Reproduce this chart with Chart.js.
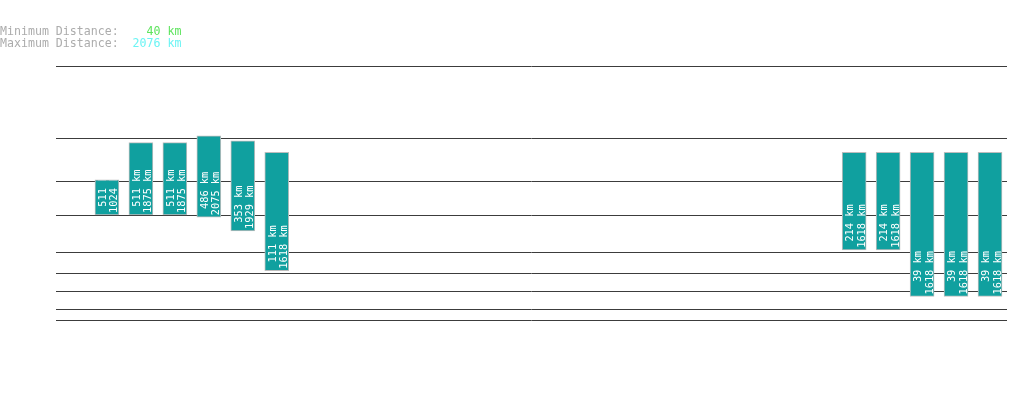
<!DOCTYPE html>
<html lang="en">

<head>
    <meta charset="UTF-8">
    <title>Distance Range</title>
    <script src="https://cdn.jsdelivr.net/npm/chart.js"></script>
    <style>
        body {
            margin: 0;
            background: #ffffff;
        }
    </style>
</head>

<body>
    <canvas id="distanceChart" width="1019" height="402"></canvas>

    <script>
        // slots along the x axis (only some of them have a reading)
        const slots = ['0', '1', '2', '3', '4', '5', '6', '7', '8', '9', '10', '11', '12', '13',
            '14', '15', '16', '17', '18', '19', '20', '21', '22', '23', '24', '25', '26', '27'];

        // distances in km, null = no reading
        const minKm = [null, 511, 511, 511, 486, 353, 111,
            null, null, null, null, null, null, null, null, null, null, null, null, null, null, null, null,
            214, 214, 39, 39, 39];
        const maxKm = [null, 1024, 1875, 1875, 2075, 1929, 1618,
            null, null, null, null, null, null, null, null, null, null, null, null, null, null, null, null,
            1618, 1618, 1618, 1618, 1618];

        // grid lines of the distance axis
        const gridKm = [10, 20, 50, 100, 200, 500, 1000, 2000, 5000];

        // summary shown at the top
        const headerMin = 40;
        const headerMax = 2076;

        // power scale (value^0.3) so short and long distances both fit
        class PowerScale extends Chart.LinearScale {
            static id = 'power';
            static defaults = {};

            buildTicks() {
                return gridKm.map(v => ({ value: v }));
            }

            getPixelForValue(value) {
                const p = 0.3;
                const lo = Math.pow(this.min, p);
                const hi = Math.pow(this.max, p);
                return this.getPixelForDecimal((Math.pow(Math.max(value, 0), p) - lo) / (hi - lo));
            }

            getValueForPixel(pixel) {
                const p = 0.3;
                const lo = Math.pow(this.min, p);
                const hi = Math.pow(this.max, p);
                return Math.pow(lo + this.getDecimalForPixel(pixel) * (hi - lo), 1 / p);
            }
        }
        Chart.register(PowerScale);

        const barText = {
            id: 'barText',
            afterDatasetsDraw(chart) {
                const ctx = chart.ctx;
                chart.getDatasetMeta(0).data.forEach((bar, i) => {
                    if (minKm[i] == null) return;
                    const { x, y, base, width } = bar.getProps(['x', 'y', 'base', 'width'], true);
                    const left = x - width / 2;
                    const top = Math.min(y, base);
                    const bottom = Math.max(y, base);
                    ctx.save();
                    ctx.beginPath();
                    ctx.rect(left + 1, top + 1, width - 2, bottom - top - 2);
                    ctx.clip();
                    ctx.translate(left, bottom);
                    ctx.rotate(-Math.PI / 2);
                    ctx.font = '10.3px "DejaVu Sans Mono"';
                    ctx.fillStyle = '#ffffff';
                    ctx.textAlign = 'left';
                    ctx.textBaseline = 'alphabetic';
                    ctx.fillText(String(minKm[i]).padStart(4, ' ') + ' km', 2, 11);
                    ctx.fillText(String(maxKm[i]).padStart(4, ' ') + ' km', 2, 22.5);
                    ctx.restore();
                });
            }
        };

        const header = {
            id: 'header',
            afterDraw(chart) {
                const ctx = chart.ctx;
                ctx.save();
                ctx.font = '11.6px "DejaVu Sans Mono"';
                ctx.textAlign = 'left';
                ctx.textBaseline = 'alphabetic';
                const rows = [
                    ['Minimum Distance:  ', headerMin, '#5ee45e', 35],
                    ['Maximum Distance:  ', headerMax, '#6cf4f4', 47]
                ];
                rows.forEach(([label, value, color, yPos]) => {
                    ctx.fillStyle = '#acacac';
                    ctx.fillText(label, 0, yPos);
                    ctx.fillStyle = color;
                    ctx.fillText(String(value).padStart(4, ' ') + ' km', ctx.measureText(label).width, yPos);
                });
                ctx.restore();
            }
        };

        const ctx = document.getElementById('distanceChart').getContext('2d');
        const distanceChart = new Chart(ctx, {
            type: 'bar',
            data: {
                labels: slots,
                datasets: [{
                    label: 'Distance',
                    data: minKm.map((v, i) => v == null ? null : [v, maxKm[i]]),
                    backgroundColor: '#10a09f',
                    borderColor: '#bdbdbd',
                    borderWidth: 1,
                    borderSkipped: false,
                    barThickness: 24
                }]
            },
            options: {
                responsive: false,
                animation: false,
                layout: {
                    padding: { left: 56, right: 12, top: 66, bottom: 82 }
                },
                plugins: {
                    legend: { display: false },
                    tooltip: { enabled: false }
                },
                scales: {
                    x: {
                        display: false
                    },
                    y: {
                        type: 'power',
                        min: 10,
                        max: 5000,
                        ticks: { display: false },
                        border: { display: false },
                        grid: {
                            drawTicks: false,
                            color: '#3c3c3c',
                            lineWidth: 1
                        }
                    }
                }
            },
            plugins: [barText, header]
        });
    </script>

</body>

</html>
